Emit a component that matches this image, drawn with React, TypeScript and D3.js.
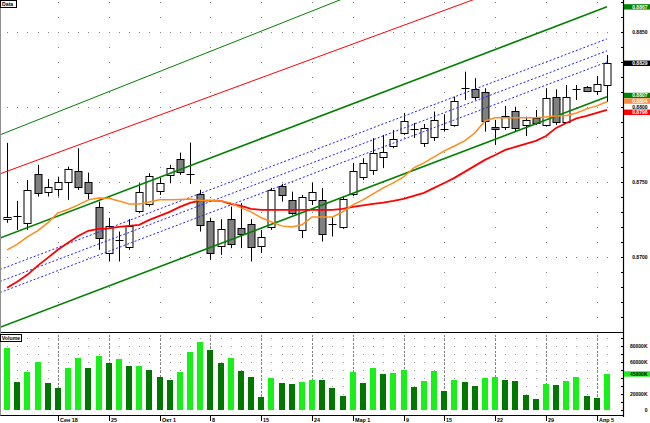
import React from 'react';
import * as d3 from 'd3';

const W = 650;
const H = 423;

const openP = [0.87253,0.87273,0.87228,0.87553,0.87431,0.87451,0.87502,0.87571,0.87502,0.87331,
0.87024,0.87106,0.87064,0.87306,0.87353,0.87442,0.87547,0.87652,0.87553,0.87420,
0.87241,0.87072,0.87251,0.87191,0.87217,0.87072,0.87201,0.87473,0.87380,0.87179,
0.87380,0.87380,0.87216,0.87201,0.87420,0.87531,0.87580,0.87665,0.87740,0.87827,
0.87854,0.87761,0.87799,0.87854,0.87881,0.88128,0.88121,0.88103,0.87867,0.87869,
0.87974,0.87881,0.87926,0.87881,0.88070,0.87903,0.88121,0.88133,0.88110,0.88148];
const highP = [0.87761,0.87373,0.87513,0.87614,0.87520,0.87535,0.87602,0.87725,0.87562,0.87368,
0.87260,0.87168,0.87251,0.87491,0.87558,0.87527,0.87614,0.87696,0.87763,0.87447,
0.87260,0.87251,0.87335,0.87358,0.87251,0.87179,0.87460,0.87487,0.87435,0.87413,
0.87495,0.87458,0.87264,0.87406,0.87627,0.87658,0.87792,0.87814,0.87847,0.87961,
0.87894,0.87887,0.87970,0.87952,0.88070,0.88237,0.88193,0.88126,0.87914,0.88008,
0.88003,0.87936,0.87981,0.88126,0.88119,0.88148,0.88148,0.88141,0.88208,0.88348];
const lowP = [0.87226,0.87179,0.87179,0.87402,0.87402,0.87402,0.87380,0.87447,0.87380,0.87046,
0.86968,0.86968,0.87046,0.87291,0.87335,0.87413,0.87491,0.87547,0.87487,0.87168,
0.86979,0.87012,0.87057,0.87057,0.86968,0.87024,0.87179,0.87368,0.87280,0.87124,
0.87346,0.87101,0.87135,0.87186,0.87406,0.87513,0.87547,0.87592,0.87725,0.87814,
0.87794,0.87734,0.87774,0.87836,0.87869,0.88048,0.88048,0.87836,0.87747,0.87847,
0.87836,0.87807,0.87881,0.87869,0.87881,0.87894,0.88048,0.88101,0.88081,0.88036];
const closeP = [0.87266,0.87270,0.87447,0.87429,0.87465,0.87502,0.87587,0.87465,0.87425,0.87124,
0.87208,0.87109,0.87206,0.87431,0.87540,0.87491,0.87592,0.87569,0.87550,0.87213,
0.87024,0.87184,0.87086,0.87151,0.87068,0.87131,0.87447,0.87411,0.87291,0.87402,
0.87431,0.87153,0.87209,0.87384,0.87575,0.87625,0.87692,0.87700,0.87785,0.87907,
0.87851,0.87861,0.87914,0.87851,0.88041,0.88125,0.88070,0.87909,0.87854,0.87943,
0.87859,0.87914,0.87896,0.88059,0.87903,0.88070,0.88118,0.88110,0.88155,0.88293];

// volume in thousands
const volume = [77000,35000,47000,60000,33700,27500,52000,65000,52000,68000,
58700,63700,54500,55000,49500,41700,37500,47500,72000,85000,
74600,58700,65000,48700,41700,16200,40000,33700,32500,35000,
38000,37500,27500,17000,48000,33700,52500,44600,46700,50000,
28700,36200,48700,23700,37500,35000,30000,40400,41700,37500,
36200,19200,13700,32500,31200,36200,41200,17500,15000,45000];

const maFast = [0.87046,0.87082,0.87133,0.87173,0.87226,0.87293,0.87316,0.87346,0.87380,0.87393,
0.87390,0.87373,0.87353,0.87353,0.87366,0.87380,0.87380,0.87383,0.87386,0.87376,
0.87376,0.87373,0.87360,0.87326,0.87300,0.87260,0.87233,0.87206,0.87199,0.87213,
0.87266,0.87266,0.87266,0.87300,0.87346,0.87380,0.87420,0.87460,0.87493,0.87533,
0.87594,0.87627,0.87667,0.87707,0.87740,0.87774,0.87827,0.87907,0.87928,0.87928,
0.87928,0.87928,0.87928,0.87934,0.87941,0.87944,0.87961,0.87988,0.88008,0.88036];
const maSlow = [0.86792,0.86832,0.86879,0.86939,0.86992,0.87046,0.87093,0.87139,0.87173,0.87186,
0.87189,0.87199,0.87206,0.87213,0.87246,0.87273,0.87300,0.87333,0.87360,0.87375,
0.87375,0.87373,0.87353,0.87340,0.87320,0.87313,0.87313,0.87313,0.87313,0.87313,
0.87313,0.87313,0.87313,0.87320,0.87333,0.87343,0.87353,0.87362,0.87373,0.87386,
0.87406,0.87427,0.87460,0.87493,0.87527,0.87567,0.87607,0.87647,0.87680,0.87714,
0.87734,0.87754,0.87774,0.87807,0.87861,0.87894,0.87924,0.87941,0.87961,0.87981];

// trend lines: price at first bar, price at last bar
const upperChannel = [0.87142, 0.88670];
const lowerChannel = [0.86546, 0.88069];
const outerGreen = [0.87833, 0.89425];
const outerRed = [0.87571, 0.89047];
const blueLines = [[0.86932, 0.88456], [0.86852, 0.88376], [0.86778, 0.88302]];

const weekIdx = [5, 10, 15, 20, 25, 30, 34, 39, 43, 48, 53, 58];
const weekLabels = ['Сен 18', '25', 'Окт 1', '8', '15', '24', 'Мар 1', '9', '15', '22', '29', 'Апр 5'];
const priceTicks = [0.87, 0.875, 0.88, 0.885];
const volTickLabels = [0, 20000, 60000, 80000];

const PLOT_R = 623;
const MAIN_B = 332;
const VOL_T = 333;
const VOL_B = 410;
const AXIS_B = 415.5;
const FONT = "'Liberation Sans', Arial, sans-serif";
const GAP = 5.6;

type Item = { d: number; label: string; bg: string | null; fg: string };

function spread(items: Item[]): number[] {
  const order = items.map((_, i) => i).sort((a, b) => items[a].d - items[b].d);
  let clusters = order.map((i) => ({ idx: [i], start: items[i].d }));
  let changed = true;
  while (changed) {
    changed = false;
    for (let k = 1; k < clusters.length; k++) {
      const a = clusters[k - 1];
      const b = clusters[k];
      if (a.start + a.idx.length * GAP > b.start) {
        const idx = a.idx.concat(b.idx);
        const start = d3.mean(idx.map((ii, j) => items[ii].d - j * GAP)) as number;
        clusters.splice(k - 1, 2, { idx, start });
        changed = true;
        break;
      }
    }
  }
  const pos: number[] = new Array(items.length);
  clusters.forEach((c) => c.idx.forEach((ii, j) => { pos[ii] = c.start + j * GAP; }));
  return pos;
}

export default function App() {
  const n = openP.length;
  const x = d3.scaleLinear().domain([0, n - 1]).range([7, 607]);
  const y = d3.scaleLinear().domain([0.87, 0.885]).range([256.7, 32.3]);
  const vy = d3.scaleLinear().domain([0, 80000]).range([VOL_B, 346]);
  const idx = d3.range(n);
  const px = (i: number) => Math.round(x(i)) + 0.5;

  const trend = (a: number[]) => {
    const i0 = x.invert(0);
    const f = (i: number) => a[0] + ((a[1] - a[0]) * i) / (n - 1);
    return d3.line<number>().x((i) => x(i)).y((i) => y(f(i)))([i0, n - 1]) || '';
  };
  const maLine = (arr: number[]) =>
    d3.line<number>().x((i) => x(i)).y((i) => y(arr[i]))(idx) || '';

  const minorPrices = d3.range(0.866, 0.8875, 0.001);
  const gridDots: JSX.Element[] = [];
  weekIdx.forEach((wi, k) => {
    minorPrices.forEach((p, j) => {
      const yy = Math.round(y(p));
      if (yy > 0 && yy < MAIN_B) gridDots.push(<rect key={`v${k}-${j}`} x={Math.round(x(wi))} y={yy} width={1} height={1} fill="#808080" />);
    });
  });
  priceTicks.forEach((p, k) => {
    idx.forEach((i) => {
      gridDots.push(<rect key={`h${k}-${i}`} x={Math.round(x(i))} y={Math.round(y(p))} width={1} height={1} fill="#808080" />);
    });
  });
  const volGridVals = d3.range(10000, 100000, 10000);
  volGridVals.forEach((v, k) => {
    idx.forEach((i) => {
      const yy = Math.round(vy(v));
      if (yy > VOL_T + 1) gridDots.push(<rect key={`vg${k}-${i}`} x={Math.round(x(i))} y={yy} width={1} height={1} fill="#a0a0a0" />);
    });
  });

  const items: Item[] = [
    { d: y(upperChannel[1]), label: upperChannel[1].toFixed(4), bg: '#008000', fg: '#ffffff' },
    { d: y(closeP[n - 1]), label: closeP[n - 1].toFixed(4), bg: '#000000', fg: '#ffffff' },
    { d: y(lowerChannel[1]), label: lowerChannel[1].toFixed(4), bg: '#008000', fg: '#ffffff' },
    { d: y(maFast[n - 1]), label: maFast[n - 1].toFixed(4), bg: '#ff8c3c', fg: '#ffffff' },
    { d: y(maSlow[n - 1]), label: maSlow[n - 1].toFixed(4), bg: '#ff0000', fg: '#ffffff' },
    ...priceTicks.map((p) => ({ d: y(p), label: p.toFixed(4), bg: null, fg: '#000000' })),
  ];
  const pos = spread(items);

  return (
    <svg width={W} height={H} style={{ position: 'absolute', left: 0, top: 0, background: '#fff' }} fontFamily={FONT}>
      <defs>
        <clipPath id="mainClip"><rect x={0} y={0} width={PLOT_R} height={MAIN_B} /></clipPath>
      </defs>
      <rect x={0} y={0} width={W} height={H} fill="#ffffff" />
      {gridDots}
      {weekIdx.map((wi, k) => (
        <line key={`vw${k}`} x1={px(wi)} x2={px(wi)} y1={VOL_T + 2} y2={VOL_B} stroke="#808080" strokeDasharray="2,2" />
      ))}

      {idx.map((i) => {
        const o = y(openP[i]);
        const c = y(closeP[i]);
        const hi = y(highP[i]);
        const lo = y(lowP[i]);
        const cx = px(i);
        const up = closeP[i] >= openP[i];
        const top = Math.min(o, c);
        const bot = Math.max(o, c);
        const doji = bot - top < 1.5;
        return (
          <g key={`c${i}`}>
            <line x1={cx} x2={cx} y1={hi} y2={lo} stroke="#000" strokeWidth={1} />
            {doji ? (
              <line x1={cx - 4} x2={cx + 4} y1={Math.round(top) + 0.5} y2={Math.round(top) + 0.5} stroke="#000" strokeWidth={1} />
            ) : (
              <rect x={cx - 3.5} y={Math.round(top) + 0.5} width={7} height={Math.max(1, Math.round(bot) - Math.round(top))}
                fill={up ? '#ffffff' : '#808080'} stroke="#000" strokeWidth={1} />
            )}
          </g>
        );
      })}

      <g clipPath="url(#mainClip)">
        <path d={trend(outerGreen)} fill="none" stroke="#008000" strokeWidth={1} />
        <path d={trend(outerRed)} fill="none" stroke="#ff0000" strokeWidth={1} />
        <path d={trend(upperChannel)} fill="none" stroke="#008000" strokeWidth={1.6} />
        <path d={trend(lowerChannel)} fill="none" stroke="#008000" strokeWidth={1.6} />
        {blueLines.map((b, k) => (
          <path key={`b${k}`} d={trend(b)} fill="none" stroke="#2020ff" strokeWidth={1} strokeDasharray="2,2" />
        ))}
        <path d={maLine(maSlow)} fill="none" stroke="#ff0000" strokeWidth={1.8} />
        <path d={maLine(maFast)} fill="none" stroke="#ff8c1a" strokeWidth={1.5} />
      </g>

      {idx.map((i) => {
        const upV = i === 0 || volume[i] > volume[i - 1];
        const top = Math.round(vy(volume[i]));
        return (
          <rect key={`v${i}`} x={Math.round(x(i)) - 3} y={top} width={6} height={VOL_B - top}
            fill={upV ? '#19f019' : '#007800'} />
        );
      })}

      <line x1={0} x2={PLOT_R} y1={MAIN_B + 0.5} y2={MAIN_B + 0.5} stroke="#000" strokeWidth={1.2} />
      <line x1={0} x2={PLOT_R} y1={AXIS_B} y2={AXIS_B} stroke="#000" strokeWidth={1} />
      <line x1={PLOT_R + 0.5} x2={PLOT_R + 0.5} y1={0} y2={417} stroke="#000" strokeWidth={1.2} />
      <line x1={0.5} x2={0.5} y1={0} y2={AXIS_B} stroke="#909090" strokeWidth={1} />

      {minorPrices.map((p, j) => {
        const yy = Math.round(y(p)) + 0.5;
        if (yy < 0 || yy > MAIN_B) return null;
        return <line key={`pt${j}`} x1={PLOT_R - 2} x2={PLOT_R} y1={yy} y2={yy} stroke="#000" />;
      })}
      {volGridVals.concat([0]).map((v, k) => {
        const yy = Math.round(vy(v)) + 0.5;
        if (yy < VOL_T) return null;
        return <line key={`vt${k}`} x1={PLOT_R - 2} x2={PLOT_R} y1={yy} y2={yy} stroke="#000" />;
      })}
      {volTickLabels.map((v, k) => (
        <text key={`vl${k}`} x={647.5} y={vy(v) + 2} fontSize={5} fontWeight="bold" textAnchor="end" fill="#000">
          {v === 0 ? '0' : `${v}K`}
        </text>
      ))}

      {items.map((t, k) => (
        <g key={`tg${k}`}>
          {t.bg && <rect x={PLOT_R + 1} y={pos[k] - 2.7} width={W - PLOT_R - 1} height={5.4} fill={t.bg} />}
          <text x={647.5} y={pos[k] + 1.9} fontSize={5} fontWeight="bold" textAnchor="end" fill={t.fg}>
            {t.label}
          </text>
        </g>
      ))}
      <g>
        <rect x={PLOT_R + 1} y={vy(volume[n - 1]) - 2.7} width={W - PLOT_R - 1} height={5.4} fill="#19f019" />
        <text x={647.5} y={vy(volume[n - 1]) + 1.9} fontSize={5} fontWeight="bold" textAnchor="end" fill="#000">
          {`${volume[n - 1]}K`}
        </text>
      </g>

      {weekIdx.map((wi, k) => (
        <g key={`xl${k}`}>
          <line x1={px(wi)} x2={px(wi)} y1={AXIS_B} y2={421} stroke="#000" />
          <text x={px(wi) + 1.5} y={421.5} fontSize={5.4} fontWeight="bold" fill="#000">{weekLabels[k]}</text>
        </g>
      ))}

      <rect x={0.5} y={0.5} width={16} height={7} fill="#fff" stroke="#000" strokeWidth={1} />
      <text x={2} y={6} fontSize={5.2} fontWeight="bold" fill="#000">Data</text>
      <rect x={0.5} y={334.5} width={21} height={7} fill="#fff" stroke="#000" strokeWidth={1} />
      <text x={1.8} y={340} fontSize={5.2} fontWeight="bold" fill="#000">Volume</text>
    </svg>
  );
}
